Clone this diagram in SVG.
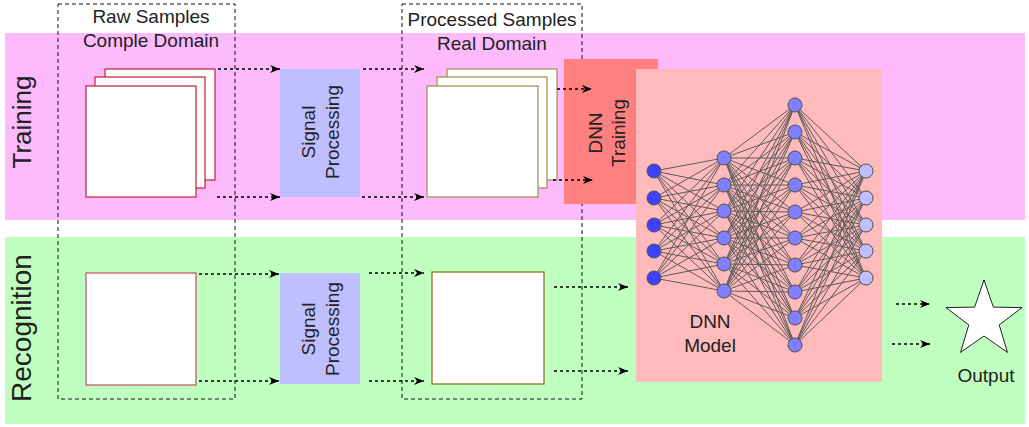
<svg xmlns="http://www.w3.org/2000/svg" width="1029" height="427" viewBox="0 0 1029 427">
<style>
text{font-family:"Liberation Sans",Arial,sans-serif;fill:#222;}
.lbl{font-size:19px;}
.side{font-size:26px;}
.dash{fill:none;stroke:#111;stroke-width:1;stroke-dasharray:4 3;}
.arr{fill:none;stroke:#000;stroke-width:1.5;stroke-dasharray:3 3;marker-end:url(#ah);}
.raw{fill:#fff;stroke:#c41e3a;stroke-width:1.2;}
.proc{fill:#fff;stroke:#8b6914;stroke-width:1.2;}
.sp{fill:#bfbfff;}
.n1{fill:#3f3fff;stroke:#505050;stroke-width:1;}
.n2{fill:#7f7fff;stroke:#505050;stroke-width:1;}
.n4{fill:#bfbfff;stroke:#505050;stroke-width:1;}
</style>
<defs>
<marker id="ah" markerUnits="userSpaceOnUse" markerWidth="11" markerHeight="8" refX="10" refY="4" orient="auto">
<path d="M0,0 L10,4 L0,8 L3,4 z" fill="#000"/>
</marker>
</defs>
<g id="bands">
<rect x="5" y="33" width="1020" height="187" fill="#fdbbfd"/>
<rect x="5" y="237" width="1020" height="187" fill="#bfffbf"/>
<text class="side" transform="translate(31,122) rotate(-90)" text-anchor="middle">Training</text>
<text class="side" transform="translate(31,328) rotate(-90)" text-anchor="middle" style="font-size:28px">Recognition</text>
</g>
<g id="raw-samples">
<rect class="dash" x="58" y="4" width="177" height="395"/>
<text class="lbl" x="151" y="23" text-anchor="middle">Raw Samples</text>
<text class="lbl" x="151" y="47" text-anchor="middle">Comple Domain</text>
<rect class="raw" x="105" y="69" width="110" height="111"/>
<rect class="raw" x="95" y="77" width="110" height="111"/>
<rect class="raw" x="86" y="86" width="110" height="111"/>
<rect class="raw" x="86" y="273" width="110" height="112" style="stroke:#c05060"/>
</g>
<g id="signal-processing-train">
<rect class="sp" x="280" y="69" width="80" height="128"/>
<text class="lbl" transform="translate(320,132) rotate(-90)" text-anchor="middle"><tspan x="0" y="-5">Signal</tspan><tspan x="0" y="19">Processing</tspan></text>
</g>
<g id="signal-processing-rec">
<rect class="sp" x="280" y="273" width="80" height="111"/>
<text class="lbl" transform="translate(320,329) rotate(-90)" text-anchor="middle"><tspan x="0" y="-5">Signal</tspan><tspan x="0" y="19">Processing</tspan></text>
</g>
<g id="processed-samples">
<rect class="dash" x="402" y="4" width="180" height="395"/>
<text class="lbl" x="492" y="26" text-anchor="middle">Processed Samples</text>
<text class="lbl" x="492" y="50" text-anchor="middle">Real Domain</text>
<rect class="proc" x="447" y="69" width="110" height="111" style="stroke:#a08a50"/>
<rect class="proc" x="437" y="77" width="110" height="111" style="stroke:#a08a50"/>
<rect class="proc" x="427" y="86" width="111" height="111" style="stroke:#a08a50"/>
<rect class="proc" x="432" y="272" width="112" height="112"/>
</g>
<g id="dnn-training">
<rect x="564" y="59" width="94" height="145" fill="#ff8080"/>
<text class="lbl" transform="translate(608,133) rotate(-90)" text-anchor="middle"><tspan x="0" y="-6">DNN</tspan><tspan x="0" y="17">Training</tspan></text>
</g>
<g id="dnn-model">
<rect x="636" y="69" width="246" height="313" fill="#ffbbbb"/>
<path fill="none" stroke="#5a5a5a" stroke-width="1" d="M654 171L724 158M654 171L724 185M654 171L724 211M654 171L724 238M654 171L724 264M654 171L724 291M654 198L724 158M654 198L724 185M654 198L724 211M654 198L724 238M654 198L724 264M654 198L724 291M654 225L724 158M654 225L724 185M654 225L724 211M654 225L724 238M654 225L724 264M654 225L724 291M654 251L724 158M654 251L724 185M654 251L724 211M654 251L724 238M654 251L724 264M654 251L724 291M654 278L724 158M654 278L724 185M654 278L724 211M654 278L724 238M654 278L724 264M654 278L724 291
M724 158L795 105M724 158L795 132M724 158L795 158M724 158L795 185M724 158L795 212M724 158L795 238M724 158L795 265M724 158L795 292M724 158L795 318M724 158L795 345
M724 185L795 105M724 185L795 132M724 185L795 158M724 185L795 185M724 185L795 212M724 185L795 238M724 185L795 265M724 185L795 292M724 185L795 318M724 185L795 345
M724 211L795 105M724 211L795 132M724 211L795 158M724 211L795 185M724 211L795 212M724 211L795 238M724 211L795 265M724 211L795 292M724 211L795 318M724 211L795 345
M724 238L795 105M724 238L795 132M724 238L795 158M724 238L795 185M724 238L795 212M724 238L795 238M724 238L795 265M724 238L795 292M724 238L795 318M724 238L795 345
M724 264L795 105M724 264L795 132M724 264L795 158M724 264L795 185M724 264L795 212M724 264L795 238M724 264L795 265M724 264L795 292M724 264L795 318M724 264L795 345
M724 291L795 105M724 291L795 132M724 291L795 158M724 291L795 185M724 291L795 212M724 291L795 238M724 291L795 265M724 291L795 292M724 291L795 318M724 291L795 345
M866 171L795 105M866 171L795 132M866 171L795 158M866 171L795 185M866 171L795 212M866 171L795 238M866 171L795 265M866 171L795 292M866 171L795 318M866 171L795 345
M866 198L795 105M866 198L795 132M866 198L795 158M866 198L795 185M866 198L795 212M866 198L795 238M866 198L795 265M866 198L795 292M866 198L795 318M866 198L795 345
M866 225L795 105M866 225L795 132M866 225L795 158M866 225L795 185M866 225L795 212M866 225L795 238M866 225L795 265M866 225L795 292M866 225L795 318M866 225L795 345
M866 251L795 105M866 251L795 132M866 251L795 158M866 251L795 185M866 251L795 212M866 251L795 238M866 251L795 265M866 251L795 292M866 251L795 318M866 251L795 345
M866 278L795 105M866 278L795 132M866 278L795 158M866 278L795 185M866 278L795 212M866 278L795 238M866 278L795 265M866 278L795 292M866 278L795 318M866 278L795 345"/>
<circle class="n1" cx="654" cy="171" r="7"/><circle class="n1" cx="654" cy="198" r="7"/><circle class="n1" cx="654" cy="225" r="7"/><circle class="n1" cx="654" cy="251" r="7"/><circle class="n1" cx="654" cy="278" r="7"/>
<circle class="n2" cx="724" cy="158" r="7"/><circle class="n2" cx="724" cy="185" r="7"/><circle class="n2" cx="724" cy="211" r="7"/><circle class="n2" cx="724" cy="238" r="7"/><circle class="n2" cx="724" cy="264" r="7"/><circle class="n2" cx="724" cy="291" r="7"/>
<circle class="n2" cx="795" cy="105" r="7"/><circle class="n2" cx="795" cy="132" r="7"/><circle class="n2" cx="795" cy="158" r="7"/><circle class="n2" cx="795" cy="185" r="7"/><circle class="n2" cx="795" cy="212" r="7"/><circle class="n2" cx="795" cy="238" r="7"/><circle class="n2" cx="795" cy="265" r="7"/><circle class="n2" cx="795" cy="292" r="7"/><circle class="n2" cx="795" cy="318" r="7"/><circle class="n2" cx="795" cy="345" r="7"/>
<circle class="n4" cx="866" cy="171" r="7"/><circle class="n4" cx="866" cy="198" r="7"/><circle class="n4" cx="866" cy="225" r="7"/><circle class="n4" cx="866" cy="251" r="7"/><circle class="n4" cx="866" cy="278" r="7"/>
<text class="lbl" x="710" y="328" text-anchor="middle">DNN</text>
<text class="lbl" x="710" y="352" text-anchor="middle">Model</text>
</g>
<g id="output">
<polygon points="984,280 993.4,307.1 1022,307.6 999.2,324.9 1007.5,352.4 984,336 960.5,352.4 968.8,324.9 946,307.6 974.6,307.1" fill="#fff" stroke="#222" stroke-width="1"/>
<text class="lbl" x="986" y="382" text-anchor="middle">Output</text>
</g>
<g id="connectors">
<line class="arr" x1="218" y1="69" x2="280" y2="69"/>
<line class="arr" x1="217" y1="197" x2="280" y2="197"/>
<line class="arr" x1="363" y1="69" x2="424" y2="69"/>
<line class="arr" x1="362" y1="197" x2="424" y2="197"/>
<line class="arr" x1="557" y1="89" x2="592" y2="89"/>
<line class="arr" x1="553" y1="180" x2="593" y2="180"/>
<line class="arr" x1="199" y1="274" x2="279" y2="274"/>
<line class="arr" x1="199" y1="381" x2="279" y2="381"/>
<line class="arr" x1="369" y1="273" x2="424" y2="273"/>
<line class="arr" x1="369" y1="381" x2="424" y2="381"/>
<line class="arr" x1="554" y1="287" x2="628" y2="287"/>
<line class="arr" x1="554" y1="371" x2="628" y2="371"/>
<line class="arr" x1="896" y1="304" x2="930" y2="304"/>
<line class="arr" x1="892" y1="344" x2="930" y2="344"/>
</g>
</svg>
